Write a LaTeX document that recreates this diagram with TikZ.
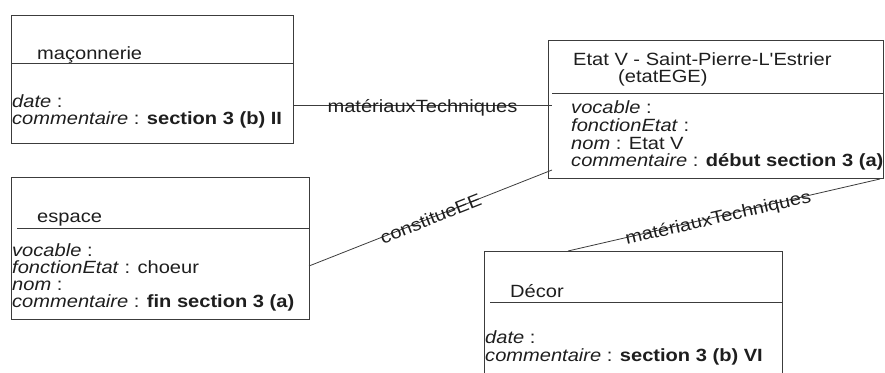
\documentclass[tikz,border=0pt]{standalone}
\usepackage{fontspec}
\setmainfont{Liberation Sans}[FakeStretch=1.135, Ligatures=TeXOff]
\usepackage{xcolor}
\usetikzlibrary{positioning}

\definecolor{umlline}{HTML}{3C3C3C}
\definecolor{umltext}{HTML}{1E1E1E}

\tikzset{
  classbox/.style={draw=umlline, line width=0.8pt, inner sep=0pt, anchor=north west},
  divider/.style={draw=umlline, line width=0.8pt},
  assoc/.style={draw=umlline, line width=0.8pt},
  txt/.style={anchor=base west, inner sep=0pt, text=umltext, font=\fontsize{17.7}{17.5}\selectfont},
  assoclabel/.style={anchor=center, inner sep=0pt, text height=14pt, text depth=0pt,
    sloped, text=umltext, font=\fontsize{17.7}{17.5}\selectfont}
}

\begin{document}
\begin{tikzpicture}[x=1pt, y=-1pt]
  \path[use as bounding box, clip] (0,0) rectangle (885,372);

  % maconnerie
  \node[classbox, minimum width=282pt, minimum height=128pt] (macon) at (11,15) {};
  \draw[divider] (11,63) -- (293,63);
  \node[txt] (macon-name) at (37,59) {maçonnerie};
  \node[txt] (macon-a1) at (12,107) {\textit{date} :};
  \node[txt] (macon-a2) at (12,124) {\textit{commentaire} : \textbf{section 3 (b) II}};

  % espace
  \node[classbox, minimum width=298pt, minimum height=142pt] (espace) at (11,177) {};
  \draw[divider] (17,228) -- (309,228);
  \node[txt] (espace-name) at (37,222) {espace};
  \foreach \n/\y/\val in {1/256/{\textit{vocable} :},
                          2/273/{\textit{fonctionEtat} : choeur},
                          3/290/{\textit{nom} :},
                          4/307/{\textit{commentaire} : \textbf{fin section 3 (a)}}} {
    \node[txt] (espace-a\n) at (12,\y) {\val};
  }

  % etat
  \node[classbox, minimum width=335pt, minimum height=138pt] (etat) at (548,40) {};
  \draw[divider] (552,93) -- (883,93);
  \node[txt] (etat-name) at (573,65) {Etat V - Saint-Pierre-L'Estrier};
  \node[txt] (etat-id) at (618,82) {(etatEGE)};
  \foreach \n/\y/\val in {1/113/{\textit{vocable} :},
                          2/131/{\textit{fonctionEtat} :},
                          3/149/{\textit{nom} : Etat V},
                          4/166/{\textit{commentaire} : \textbf{début section 3 (a)}}} {
    \node[txt] (etat-a\n) at (571,\y) {\val};
  }

  % decor
  \node[classbox, minimum width=298pt, minimum height=140pt] (decor) at (484,251) {};
  \draw[divider] (490,302) -- (782,302);
  \node[txt] (decor-name) at (510,297) {Décor};
  \node[txt] (decor-a1) at (485,343) {\textit{date} :};
  \node[txt] (decor-a2) at (485,361) {\textit{commentaire} : \textbf{section 3 (b) VI}};

  % associations
  \coordinate (macon-end) at (293,105);
  \coordinate (etat-end1) at (552,105);
  \coordinate (espace-end) at (309,266);
  \coordinate (etat-end2) at (552,170);
  \coordinate (decor-end) at (568,251);
  \coordinate (etat-end3) at (880,179);

  \draw[assoc] (macon-end) -- node[assoclabel] (mat1) {matériauxTechniques} (etat-end1);
  \draw[assoc] (espace-end) -- node[assoclabel] (const) {constitueEE} (etat-end2);
  \draw[assoc] (decor-end) -- node[assoclabel, pos=0.48] (mat2) {matériauxTechniques} (etat-end3);
\end{tikzpicture}
\end{document}
